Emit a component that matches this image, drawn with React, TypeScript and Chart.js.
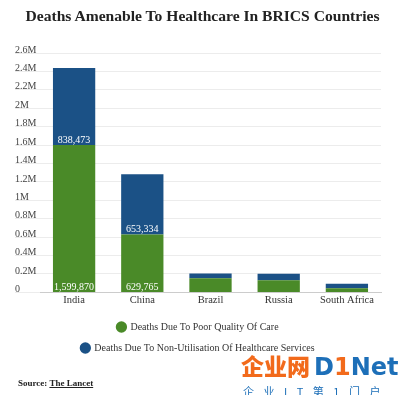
import React, { useEffect, useRef } from "react";
import { Chart, registerables } from "chart.js";

Chart.register(...registerables);

const categories = ["India", "China", "Brazil", "Russia", "South Africa"];
const poorQualityDeaths = [1599870, 629765, 153327, 131744, 45000];
const nonUtilisationDeaths = [838473, 653334, 52000, 72000, 48000];
const seriesNames = [
  "Deaths Due To Poor Quality Of Care",
  "Deaths Due To Non-Utilisation Of Healthcare Services",
];
const yMax = 2600000;
const yStep = 200000;

const GREEN = "#4a8a28";
const BLUE = "#1b5186";
const SERIF = "'Liberation Serif', 'DejaVu Serif', serif";

const fmtTick = (v: number) =>
  v === 0 ? "0" : `${Number((v / 1e6).toFixed(1))}M`;

const valueLabels = {
  id: "valueLabels",
  afterDatasetsDraw(chart: any) {
    const { ctx } = chart;
    ctx.save();
    ctx.fillStyle = "#ffffff";
    ctx.font = `10px ${SERIF}`;
    ctx.textAlign = "center";
    ctx.textBaseline = "middle";
    chart.data.datasets.forEach((ds: any, di: number) => {
      const meta = chart.getDatasetMeta(di);
      meta.data.forEach((bar: any, i: number) => {
        const h = Math.abs(bar.base - bar.y);
        if (h < 14) return;
        const v = ds.data[i] as number;
        ctx.fillText(v.toLocaleString("en-US"), bar.x, bar.base - 5);
      });
    });
    ctx.restore();
  },
};

export default function App() {
  const ref = useRef<HTMLCanvasElement>(null);
  useEffect(() => {
    document.body.style.margin = "0";
    const chart = new Chart(ref.current!, {
      type: "bar",
      data: {
        labels: categories,
        datasets: [
          {
            label: seriesNames[0],
            data: poorQualityDeaths,
            backgroundColor: GREEN,
            borderWidth: 0,
          },
          {
            label: seriesNames[1],
            data: nonUtilisationDeaths,
            backgroundColor: BLUE,
            borderWidth: 0,
          },
        ],
      },
      options: {
        animation: false,
        responsive: false,
        maintainAspectRatio: false,
        layout: { padding: { left: 15, right: 19, top: 53, bottom: 32 } },
        datasets: { bar: { categoryPercentage: 1, barPercentage: 0.62 } },
        scales: {
          x: {
            stacked: true,
            grid: { display: false, drawTicks: false },
            border: { display: true, color: "#cccccc", width: 1 },
            afterFit: (s: any) => {
              s.height += 2;
            },
            ticks: {
              color: "#333333",
              font: { family: SERIF, size: 10.5 },
              padding: 2,
            },
          },
          y: {
            stacked: true,
            min: 0,
            max: yMax,
            border: { display: false },
            grid: {
              color: "#ececec",
              lineWidth: 1,
              drawTicks: true,
              tickLength: 25,
              tickColor: "#ececec",
            },
            afterFit: (s: any) => {
              s.width = 25;
            },
            ticks: {
              stepSize: yStep,
              callback: (v: any) => fmtTick(Number(v)),
              color: "#444444",
              font: { family: SERIF, size: 10 },
              crossAlign: "far",
              padding: 0,
              labelOffset: -3,
            },
          },
        },
        plugins: {
          title: { display: false },
          legend: {
            display: true,
            position: "bottom",
            labels: {
              usePointStyle: true,
              pointStyle: "circle",
              boxWidth: 8,
              boxHeight: 8,
              padding: 11,
              color: "#333333",
              font: { family: SERIF, size: 10 },
            },
          },
          tooltip: { enabled: false },
        },
      },
      plugins: [valueLabels],
    });
    return () => chart.destroy();
  }, []);

  return (
    <div style={{ position: "relative", width: 400, height: 395, background: "#fff", overflow: "hidden" }}>
      <canvas ref={ref} width={400} height={395} style={{ display: "block" }} />
      <div
        style={{
          position: "absolute",
          left: 0,
          width: 405,
          top: 6,
          textAlign: "center",
          fontFamily: SERIF,
          fontWeight: "bold",
          fontSize: 15.6,
          lineHeight: "19px",
          color: "#222",
          whiteSpace: "nowrap",
        }}
      >
        Deaths Amenable To Healthcare In BRICS Countries
      </div>
      <div
        style={{
          position: "absolute",
          left: 18,
          top: 378,
          fontFamily: SERIF,
          fontWeight: "bold",
          fontSize: 9,
          color: "#222",
        }}
      >
        Source: <span style={{ textDecoration: "underline" }}>The Lancet</span>
      </div>
      <div
        style={{
          position: "absolute",
          left: 241,
          top: 352,
          fontFamily: "'Noto Sans CJK SC', sans-serif",
          fontWeight: 900,
          fontSize: 23,
          lineHeight: "26px",
          color: "#f26a1b",
          whiteSpace: "nowrap",
        }}
      >
        企业网
        <span style={{ fontFamily: "'DejaVu Sans', sans-serif", fontWeight: "bold", color: "#1d6fb8", marginLeft: 4, fontSize: 24 }}>
          D<span style={{ color: "#f26a1b" }}>1</span>Net
        </span>
      </div>
      <div
        style={{
          position: "absolute",
          left: 243,
          top: 385,
          fontFamily: "'Noto Sans CJK SC', sans-serif",
          fontSize: 11,
          lineHeight: "12px",
          letterSpacing: 9.5,
          color: "#1d6fb8",
          whiteSpace: "nowrap",
        }}
      >
        企业IT第1门户
      </div>
    </div>
  );
}
